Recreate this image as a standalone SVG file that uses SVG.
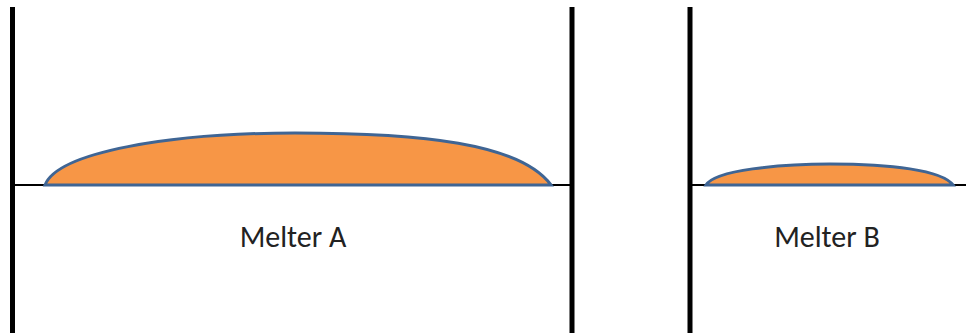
<svg xmlns="http://www.w3.org/2000/svg" width="966" height="333" viewBox="0 0 966 333">
<style>
.wall{stroke:#000;stroke-width:5;fill:none}
.base{stroke:#000;stroke-width:2;fill:none}
.melt{fill:#f79646;stroke:#3f6594;stroke-width:3}
.lbl{font-family:Carlito,"Liberation Sans",sans-serif;font-size:30px;fill:#222;text-anchor:middle}
</style>
<g id="melterA">
<line class="wall" x1="12.5" y1="7" x2="12.5" y2="333"/>
<line class="wall" x1="572" y1="7" x2="572" y2="333"/>
<line class="base" x1="13" y1="185" x2="572" y2="185"/>
<path class="melt" d="M45,185 C58,152 170,133 295,133 C420,133 520,143 551,185 Z"/>
<text class="lbl" x="293" y="247">Melter A</text>
</g>
<g id="melterB">
<line class="wall" x1="690" y1="7" x2="690" y2="333"/>
<line class="base" x1="690" y1="185" x2="966" y2="185"/>
<path class="melt" d="M706,185 C715,170 780,164 830,164 C890,164 942,170 953,185 Z"/>
<text class="lbl" x="827" y="247">Melter B</text>
</g>
</svg>
